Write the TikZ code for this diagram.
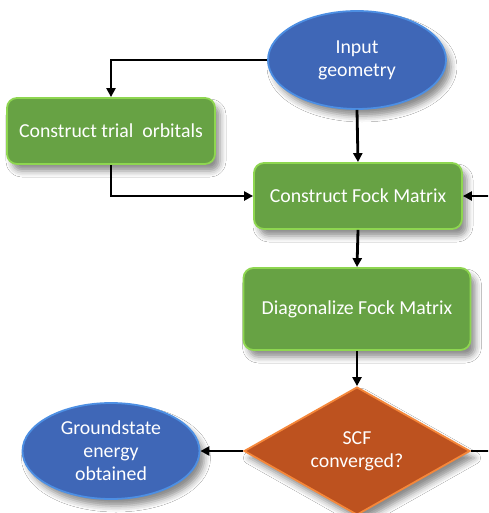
\documentclass[tikz,border=0pt]{standalone}
\usepackage{fontspec}
\setmainfont{Carlito}
\usetikzlibrary{shapes.geometric,arrows.meta,shadows.blur}
\definecolor{bluefill}{HTML}{3F67B7}
\definecolor{bluerim}{HTML}{4D8FE3}
\definecolor{greenfill}{HTML}{67A244}
\definecolor{greenrim}{HTML}{8ED650}
\definecolor{orangefill}{HTML}{BD521F}
\definecolor{orangerim}{HTML}{F5873A}
\tikzset{
  base/.style={text=white, font=\fontsize{19.8}{23}\selectfont, align=center, inner sep=0pt,
    blur shadow={shadow xshift=5pt, shadow yshift=-7pt, shadow blur radius=6pt, shadow opacity=45}},
  oval/.style={base, ellipse, fill=bluefill, draw=bluerim, line width=1.8pt},
  procbox/.style={base, rectangle, rounded corners=10pt, fill=greenfill, draw=greenrim, line width=1.8pt},
  decision/.style={base, diamond, aspect=1.77, fill=orangefill, draw=orangerim, line width=1.8pt},
  conn/.style={line width=2.8pt, -{Triangle[length=9pt,width=9pt]}},
}
\begin{document}
\begin{tikzpicture}[x=1pt,y=-1pt]
\useasboundingbox (0,0) rectangle (488,513);
\clip (0,0) rectangle (488,513);
\fill[white] (0,0) rectangle (488,513);
\node[oval, minimum width=178pt, minimum height=98pt] (input) at (357,60) {Input\\geometry};
\node[procbox, minimum width=208pt, minimum height=66pt] (trial) at (111,131) {Construct trial~ orbitals};
\node[procbox, minimum width=208pt, minimum height=66pt] (fock) at (358,196) {Construct Fock Matrix};
\node[procbox, minimum width=227pt, minimum height=82pt] (diag) at (357,309) {Diagonalize Fock Matrix};
\node[decision, minimum width=226pt, minimum height=128pt] (scf) at (357,451) {SCF\\converged?};
\node[oval, minimum width=177pt, minimum height=96pt] (ground) at (111,451) {Groundstate\\energy\\obtained};
\coordinate (loop) at (505,451);
\draw[conn] (input.west) -| (trial.north);
\draw[conn] (input.south) -- (fock.north);
\draw[conn] (trial.south) |- (fock.west);
\draw[conn] (fock.south) -- (diag.north);
\draw[conn] (diag.south) -- (scf.north);
\draw[conn] (scf.west) -- (ground.east);
\draw[conn] (scf.east) -- (loop) |- (fock.east);
\end{tikzpicture}
\end{document}
